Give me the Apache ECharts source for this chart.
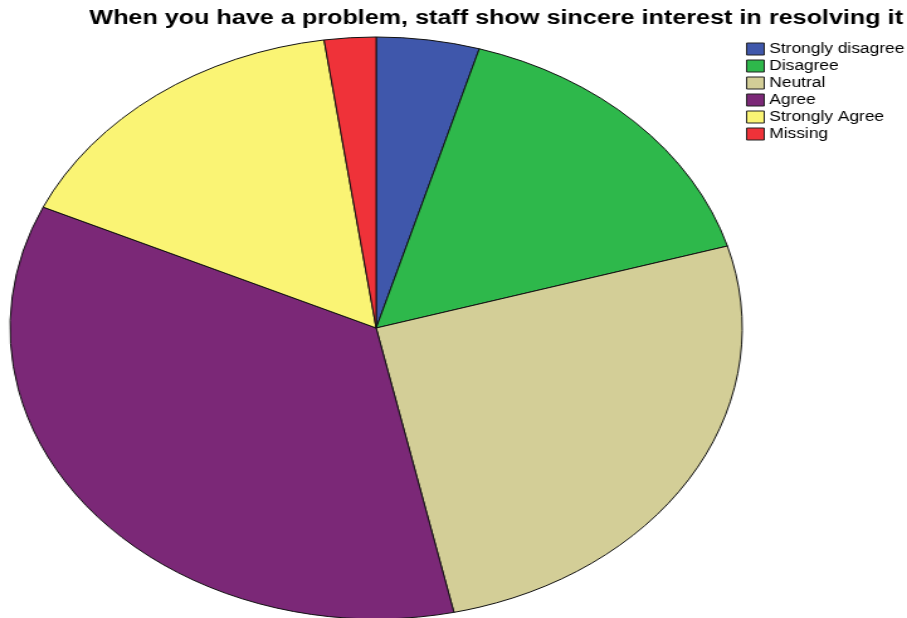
<!DOCTYPE html>
<html>
<head>
<meta charset="utf-8">
<script src="https://cdn.jsdelivr.net/npm/echarts@6/dist/echarts.min.js"></script>
<style>
  html, body { margin: 0; padding: 0; background: #fff; overflow: hidden; }
  #wrap { width: 907px; height: 618px; position: relative; overflow: hidden; }
  /* the chart is laid out narrow, then widened so the pie becomes an oval */
  #chart { position: absolute; left: 0; top: 0; width: 721px; height: 618px;
           transform: scaleX(1.258); transform-origin: 0 0; }
</style>
</head>
<body>
<div id="wrap"><div id="chart"></div></div>
<script>
const titleText = 'When you have a problem, staff show sincere interest in resolving it';
const categories = ['Strongly disagree', 'Disagree', 'Neutral', 'Agree', 'Strongly Agree', 'Missing'];
const counts = [4, 14, 23, 31, 14, 2];
const colors = ['#3f57ab', '#2eb84b', '#d3ce97', '#7b2877', '#faf474', '#ef3239'];

const chart = echarts.init(document.getElementById('chart'), null, { renderer: 'canvas' });

chart.setOption({
  animation: false,
  backgroundColor: '#ffffff',
  color: colors,
  title: {
    text: titleText,
    left: 71,
    top: 8,
    padding: 0,
    textStyle: {
      fontFamily: 'Liberation Sans, Arial, sans-serif',
      fontWeight: 'bold',
      fontSize: 20,
      color: '#000'
    }
  },
  legend: {
    orient: 'vertical',
    left: 593,
    top: 42,
    padding: 0,
    itemWidth: 14,
    itemHeight: 12,
    itemGap: 3,
    icon: 'rect',
    data: categories,
    itemStyle: { borderColor: '#222', borderWidth: 1 },
    textStyle: {
      fontFamily: 'Liberation Sans, Arial, sans-serif',
      fontSize: 13.8,
      lineHeight: 13,
      color: '#000',
      padding: [0, 0, 0, -1]
    }
  },
  series: [{
    type: 'pie',
    center: [299, 328],
    radius: 291,
    startAngle: 90,
    clockwise: true,
    avoidLabelOverlap: false,
    label: { show: false },
    labelLine: { show: false },
    emphasis: { disabled: true },
    itemStyle: { borderColor: '#111', borderWidth: 1 },
    data: categories.map((name, i) => ({ name: name, value: counts[i] }))
  }]
});
</script>
</body>
</html>
